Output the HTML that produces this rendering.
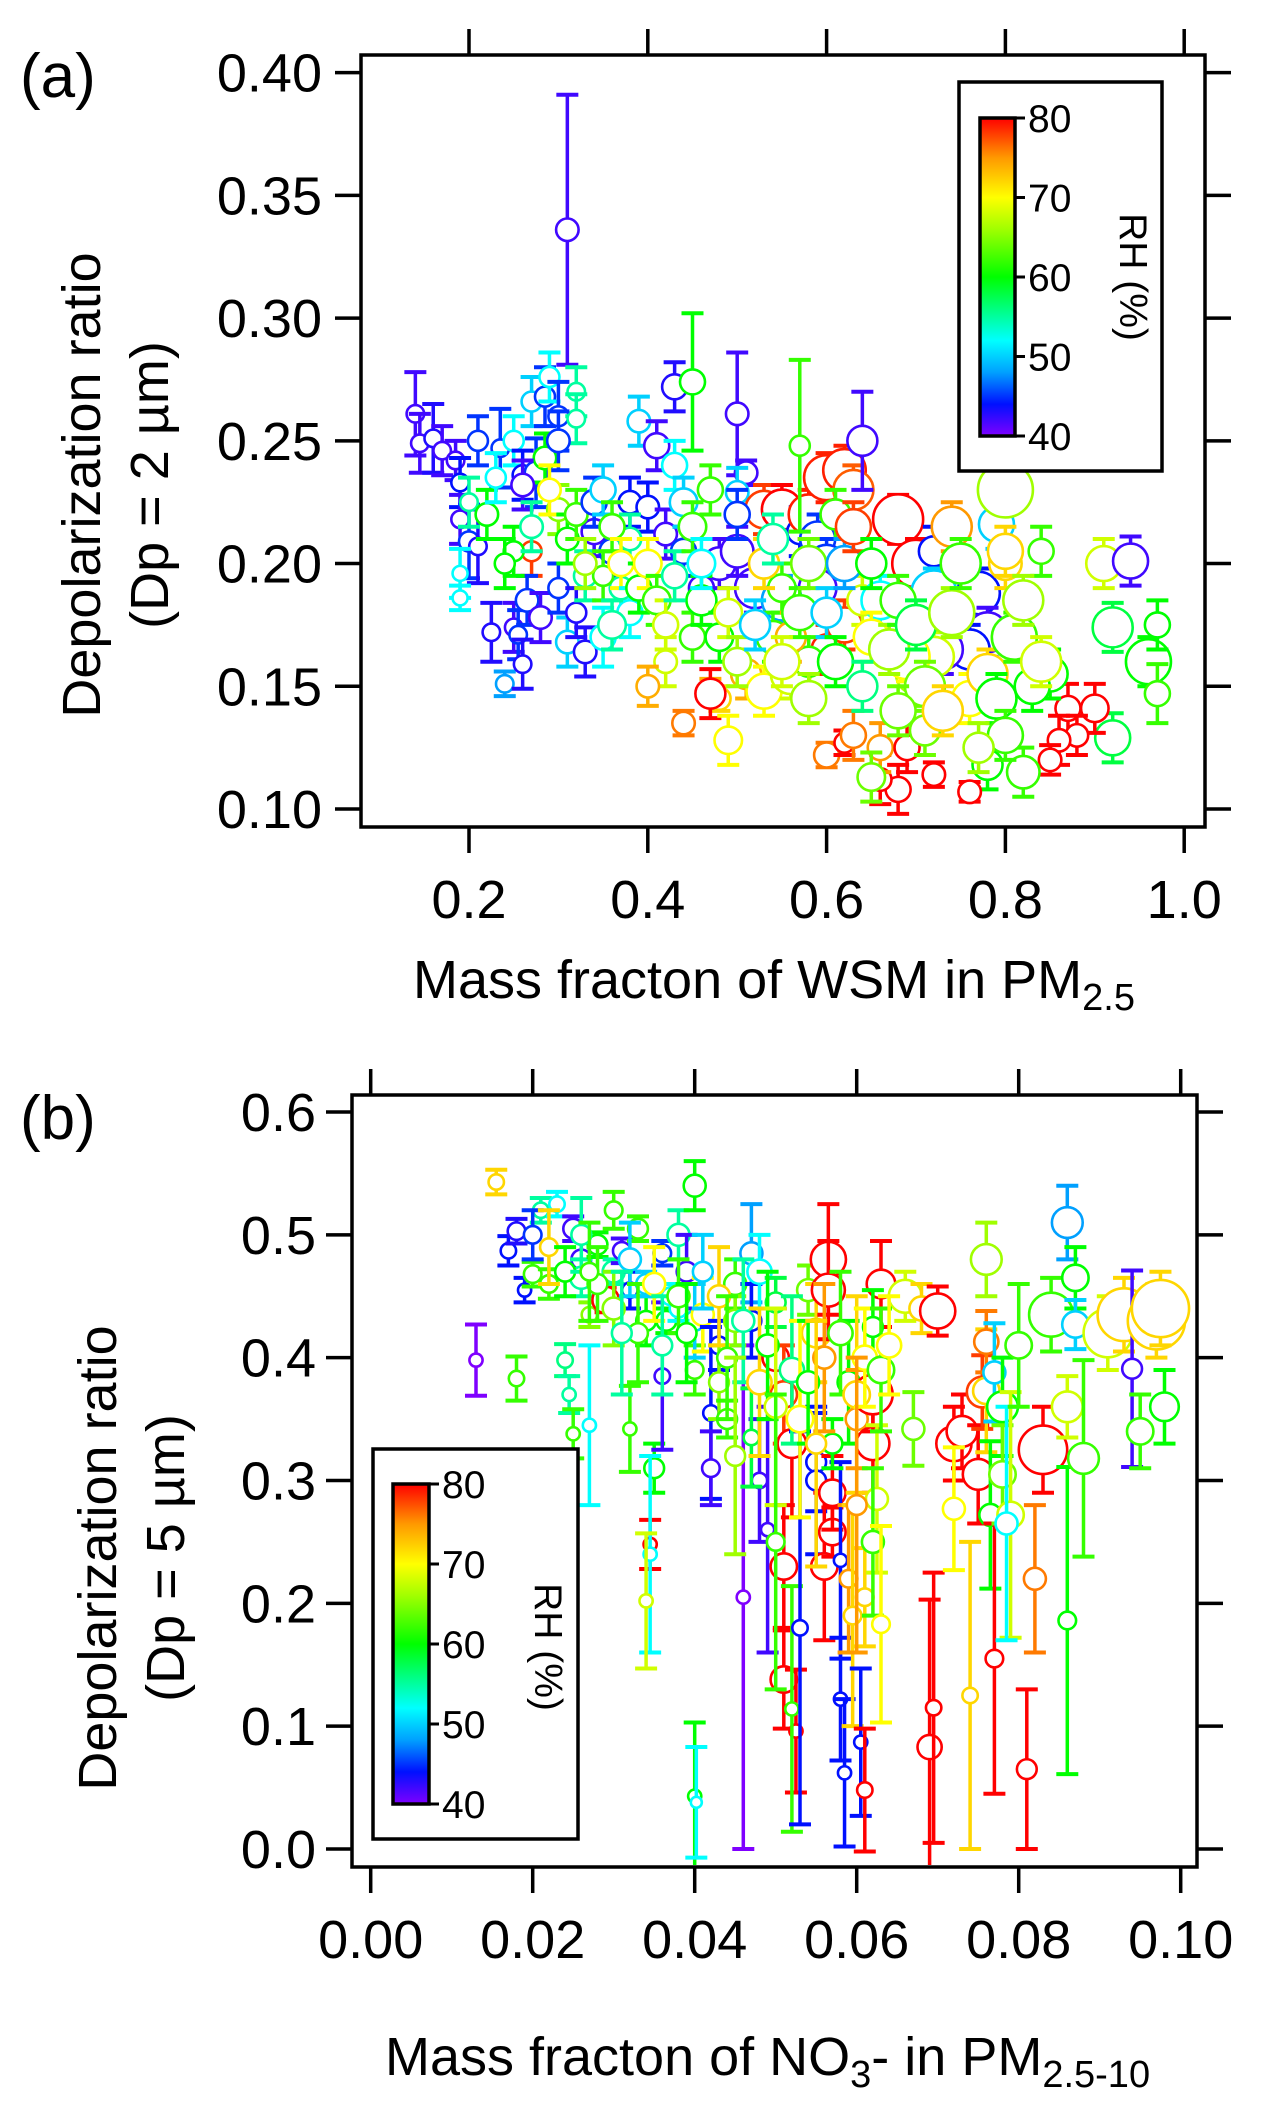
<!DOCTYPE html>
<html><head><meta charset="utf-8"><style>
html,body{margin:0;padding:0;background:#fff;}
svg{display:block;font-family:"Liberation Sans",Arial,sans-serif;}
</style></head><body>
<svg id="fig" width="1263" height="2119" viewBox="0 0 1263 2119" xmlns="http://www.w3.org/2000/svg">
<defs>
<linearGradient id="cbar" x1="0" y1="1" x2="0" y2="0">
<stop offset="0" stop-color="#7f00ff"/><stop offset="0.1" stop-color="#0010ff"/><stop offset="0.2" stop-color="#00a0ff"/><stop offset="0.3" stop-color="#00ffff"/><stop offset="0.5" stop-color="#00ff00"/><stop offset="0.65" stop-color="#a0ff00"/><stop offset="0.75" stop-color="#ffff00"/><stop offset="0.875" stop-color="#ff9900"/><stop offset="1" stop-color="#ff0000"/>
</linearGradient>
<clipPath id="clipA"><rect x="362" y="57" width="841" height="768"/></clipPath>
<clipPath id="clipB"><rect x="354" y="1097" width="841" height="768"/></clipPath>
</defs>
<g id="panelA"></g>
<g id="panelB"></g>
</svg>
<script>
// ---------- Panel (a) data ----------
const aX = [.14,.145,.16,.17,.185,.19,.19,.2,.21,.19,.19,.2,.225,.24,.25,.255,.26,.235,.25,.26,.27,.285,.29,.3,.31,.32,.32,.275,.285,.3,.27,.265,.28,.3,.31,.32,.33,.25,.26,.33,.34,.35,.36,.37,.38,.39,.4,.41,.42,.43,.45,.43,.44,.46,.45,.47,.44,.48,.5,.51,.5,.53,.55,.57,.58,.59,.6,.62,.63,.64,.57,.61,.6,.59,.52,.55,.48,.5,.46,.54,.51,.53,.47,.49,.56,.6,.62,.64,.66,.68,.7,.72,.74,.75,.72,.77,.78,.76,.73,.79,.8,.8,.84,.91,.94,.92,.96,.97,.97,.92,.87,.9,.88,.86,.85,.85,.82,.78,.72,.76,.68,.66,.66,.69,.71,.65,.6,.62,.7,.72,.76,.63,.69,.55,.58,.42,.4,.35,.38,.8,
 .3,.29,.31,.32,.34,.35,.36,.37,.38,.39,.4,.41,.42,.43,.44,.45,.46,.47,.48,.49,.5,.52,.53,.54,.56,.57,.58,.6,.61,.62,.63,.65,.65,.67,.68,.7,.71,.73,.74,.75,.78,.79,.81,.82,.83,.84,.8,.77,.68,.64,.58,.55,.5,.27,.22,.23,.21,.24,.36,.33];
const aY = [.261,.249,.251,.246,.242,.233,.218,.209,.207,.196,.186,.225,.172,.151,.174,.171,.159,.247,.25,.236,.266,.268,.276,.26,.336,.27,.259,.237,.243,.222,.205,.185,.178,.19,.168,.18,.195,.205,.232,.164,.213,.17,.205,.19,.225,.258,.223,.248,.212,.272,.274,.24,.205,.19,.17,.148,.135,.145,.261,.237,.229,.222,.222,.213,.22,.21,.235,.238,.23,.25,.248,.22,.2,.19,.19,.185,.2,.205,.185,.17,.155,.148,.147,.128,.155,.165,.175,.185,.185,.218,.2,.205,.215,.185,.188,.188,.172,.165,.165,.216,.23,.2,.205,.2,.201,.174,.16,.147,.175,.129,.141,.141,.13,.128,.12,.155,.115,.118,.114,.107,.108,.112,.125,.125,.132,.113,.122,.127,.155,.162,.145,.13,.162,.19,.16,.16,.15,.195,.21,.205,
 .25,.23,.21,.22,.225,.23,.215,.2,.18,.19,.2,.185,.175,.195,.225,.215,.2,.23,.17,.18,.16,.175,.2,.21,.17,.18,.2,.18,.16,.2,.215,.2,.17,.165,.185,.175,.15,.14,.18,.2,.155,.145,.17,.185,.15,.16,.13,.125,.14,.15,.145,.16,.22,.215,.22,.235,.25,.2,.175,.2];
const aErr = [.017,.012,.014,.01,.008,.01,.01,.015,.015,.01,.005,.01,.012,.005,.01,.01,.01,.016,.01,.01,.01,.012,.01,.014,.055,.01,.01,.014,.01,.01,.01,.01,.01,.01,.01,.01,.01,.01,.01,.01,.01,.012,.01,.01,.01,.01,.01,.01,.01,.01,.028,.01,.01,.01,.01,.005,.005,.005,.025,.005,.01,.01,.01,.01,.01,.01,.01,.01,.01,.02,.035,.01,.01,.01,.01,.01,.01,.01,.01,.01,.01,.01,.01,.01,.01,.01,.01,.01,.01,.01,.01,.01,.01,.01,.01,.01,.01,.01,.01,.01,.01,.01,.01,.01,.01,.01,.01,.012,.01,.01,.01,.01,.008,.01,.006,.01,.01,.01,.005,.004,.01,.01,.01,.01,.01,.01,.005,.005,.01,.01,.01,.01,.01,.01,.01,.01,.008,.01,.01,.01,
 .012,.01,.01,.01,.01,.01,.01,.01,.01,.01,.01,.01,.01,.01,.01,.01,.01,.01,.01,.01,.01,.01,.01,.01,.01,.01,.01,.01,.01,.01,.01,.01,.01,.01,.01,.01,.01,.01,.01,.01,.01,.01,.01,.01,.01,.01,.01,.01,.01,.01,.01,.01,.01,.01,.01,.01,.01,.01,.01,.01];
const aRH = [42,42,43,42,42,44,42,45,43,52,52,55,43,48,42,45,43,45,52,44,50,45,52,45,42,55,55,45,60,65,78,45,42,45,50,43,55,60,42,43,42,52,45,55,44,50,44,42,42,43,60,52,45,42,62,74,76,72,42,42,50,78,80,44,79,45,79,79,77,42,62,62,45,42,42,48,42,42,60,62,74,70,80,70,68,79,78,68,52,80,80,44,75,48,50,44,42,44,42,50,66,72,62,68,42,58,60,62,60,58,80,80,80,80,80,60,62,60,80,80,80,80,75,80,64,64,76,80,66,68,70,76,70,62,62,68,74,62,55,72,
 45,70,60,62,45,50,62,70,52,60,70,62,68,55,50,62,52,62,60,68,66,50,72,55,74,62,64,50,60,48,78,60,70,66,62,58,64,72,66,62,72,60,62,66,60,68,62,66,64,56,66,68,45,55,60,52,45,60,55,66];
const aSize = [7,7,7,7,7,7,7,8,7,6,6,7,7,7,7,7,7,7,8,8,8,8,8,8,9,7,7,9,9,9,8,9,9,8,9,8,9,8,9,9,10,10,10,9,9,9,9,10,9,10,10,10,10,10,10,9,9,9,9,9,9,15,16,10,16,14,18,17,16,12,8,12,15,15,16,16,13,13,12,13,12,14,12,11,16,12,14,12,15,20,19,12,16,18,18,17,16,16,16,14,22,13,10,14,14,16,18,10,10,14,10,11,9,9,9,14,13,12,9,9,10,9,10,10,12,11,10,8,16,16,14,10,18,11,12,9,9,8,9,14,
 9,9,9,9,10,10,10,10,10,10,11,11,10,10,11,11,11,10,11,11,11,12,12,12,12,14,14,12,14,14,14,12,14,16,14,16,16,16,18,16,16,16,18,16,14,16,14,12,14,12,14,14,10,9,9,8,8,8,11,9];
const aXTicks = [0.2,0.4,0.6,0.8,1.0];
const aXTickLabels = ["0.2","0.4","0.6","0.8","1.0"];
const aYTicks = [0.10,0.15,0.20,0.25,0.30,0.35,0.40];
const aYTickLabels = ["0.10","0.15","0.20","0.25","0.30","0.35","0.40"];

// ---------- Panel (b) data ----------
const bX = [.013,.0155,.017,.018,.019,.018,.02,.021,.022,.023,.024,.0245,.025,.026,.026,.027,.027,.025,.028,.029,.03,.03,.031,.032,.032,.033,.034,.034,.035,.0345,.0345,.034,.036,.036,.037,.038,.039,.04,.04,.04,.04,.0402,.041,.042,.042,.043,.043,.044,.045,.046,.047,.047,.048,.048,.047,.049,.05,.05,.051,.052,.051,.051,.0525,.052,.053,.054,.055,.055,.055,.056,.057,.057,.058,.058,.0585,.0565,.0565,.059,.06,.059,.0595,.0605,.061,.061,.062,.062,.0625,.062,.063,.063,.062,.066,.067,.068,.070,.069,.0695,.072,.073,.072,.074,.075,.0755,.076,.076,.076,.0765,.077,.077,.078,.078,.079,.0785,.08,.081,.082,.083,.084,.086,.086,.086,.087,.087,.088,.091,.093,.094,.095,.097,.0975,.098,.0365,.038,.045,.057,
 .02,.022,.024,.026,.028,.03,.032,.033,.035,.036,.038,.039,.041,.043,.044,.046,.048,.049,.05,.052,.053,.054,.056,.058,.06,.061,.063,.064,.045,.05,.055,.06,.031,.027];
const bY = [.398,.543,.487,.503,.455,.383,.468,.52,.46,.525,.398,.37,.505,.48,.465,.435,.345,.338,.492,.447,.47,.52,.487,.455,.342,.505,.43,.46,.31,.248,.24,.202,.385,.485,.45,.5,.47,.54,.39,.43,.043,.038,.435,.355,.31,.41,.38,.35,.46,.205,.485,.43,.47,.3,.335,.26,.445,.4,.37,.33,.23,.138,.096,.114,.18,.455,.42,.315,.3,.23,.258,.29,.235,.122,.062,.48,.455,.38,.35,.22,.19,.087,.205,.048,.33,.37,.285,.25,.46,.183,.425,.45,.342,.44,.438,.083,.115,.33,.34,.277,.125,.305,.372,.373,.413,.48,.272,.155,.388,.36,.305,.272,.265,.41,.065,.22,.325,.435,.36,.186,.51,.465,.427,.318,.42,.435,.391,.34,.43,.44,.36,.43,.44,.43,.33,
 .5,.49,.47,.5,.46,.44,.48,.42,.46,.41,.45,.42,.47,.45,.4,.43,.38,.41,.36,.39,.35,.38,.4,.42,.37,.4,.39,.41,.32,.25,.33,.28,.42,.47];
const bErr = [.029,.01,.012,.01,.01,.018,.01,.01,.012,.01,.013,.015,.01,.015,.015,.01,.065,.02,.01,.01,.01,.015,.01,.015,.035,.01,.02,.01,.02,.02,.08,.055,.06,.01,.01,.02,.03,.02,.02,.03,.06,.045,.03,.07,.03,.02,.03,.015,.02,.205,.04,.03,.03,.05,.04,.1,.02,.04,.04,.06,.05,.04,.05,.1,.16,.02,.04,.04,.06,.06,.02,.03,.08,.05,.06,.045,.04,.05,.04,.06,.09,.06,.04,.05,.04,.03,.06,.06,.035,.08,.03,.02,.03,.02,.02,.12,.11,.03,.03,.05,.125,.04,.03,.05,.025,.03,.06,.11,.04,.04,.04,.1,.095,.05,.065,.06,.035,.03,.025,.125,.03,.025,.02,.08,.03,.03,.08,.03,.03,.03,.03,.01,.01,.02,.02,
 .02,.03,.02,.03,.03,.03,.03,.04,.03,.04,.03,.04,.03,.04,.05,.05,.06,.06,.08,.06,.08,.05,.06,.05,.08,.04,.05,.04,.08,.12,.1,.12,.05,.04];
const bRH = [40,72,44,43,44,62,62,55,62,52,56,55,42,42,55,65,52,62,60,80,55,62,42,44,62,62,60,50,60,80,52,68,42,45,52,55,42,60,62,50,60,52,70,44,42,44,65,62,62,40,48,44,52,42,58,42,58,80,78,80,80,80,80,62,44,64,72,44,44,80,80,80,44,44,44,80,80,60,75,75,72,44,72,80,80,80,68,62,80,70,60,68,64,72,80,80,80,80,80,70,72,80,78,72,76,66,60,80,50,60,64,68,52,62,80,76,80,62,68,60,48,60,50,62,68,72,42,62,72,72,60,60,52,65,60,
 45,72,60,55,62,65,50,62,70,55,62,60,50,72,62,55,72,60,68,56,70,60,75,62,72,70,62,70,66,62,72,75,55,62];
const bSize = [6,7,7,8,6,7,8,7,8,7,7,6,9,9,10,7,6,6,9,12,10,8,8,7,6,9,9,9,9,6,6,6,7,8,8,10,9,10,8,9,6,5,10,7,8,8,9,9,10,6,10,9,11,7,7,6,9,12,12,13,12,12,6,6,7,10,13,9,9,12,12,12,6,6,6,16,15,10,10,8,8,6,8,7,15,18,10,10,13,8,9,15,10,11,16,11,7,16,14,10,7,14,14,12,11,14,10,8,10,14,12,12,10,12,9,10,22,20,14,8,14,12,12,14,22,24,9,12,26,26,13,9,8,10,9,
 8,8,9,9,9,10,10,9,10,9,10,9,9,10,9,10,11,10,10,11,12,10,10,11,12,11,12,11,9,8,9,9,9,8];
const bXTicks = [0.00,0.02,0.04,0.06,0.08,0.10];
const bXTickLabels = ["0.00","0.02","0.04","0.06","0.08","0.10"];
const bYTicks = [0.0,0.1,0.2,0.3,0.4,0.5,0.6];
const bYTickLabels = ["0.0","0.1","0.2","0.3","0.4","0.5","0.6"];

const NS = "http://www.w3.org/2000/svg";
function mk(tag, attrs, parent){
  const e = document.createElementNS(NS, tag);
  for (const k in attrs) e.setAttribute(k, attrs[k]);
  parent.appendChild(e);
  return e;
}
const cmStops = [[40,[127,0,255]],[44,[0,16,255]],[48,[0,160,255]],[52,[0,255,255]],[60,[0,255,0]],[66,[160,255,0]],[70,[255,255,0]],[75,[255,153,0]],[80,[255,0,0]]];
function rhColor(v){
  if (v<=40) return "rgb(127,0,255)";
  if (v>=80) return "rgb(255,0,0)";
  for (let i=0;i<cmStops.length-1;i++){
    const a=cmStops[i], b=cmStops[i+1];
    if (v>=a[0] && v<=b[0]){
      const t=(v-a[0])/(b[0]-a[0]);
      const c=a[1].map((q,j)=>Math.round(q+(b[1][j]-q)*t));
      return "rgb("+c.join(",")+")";
    }
  }
  return "#000";
}

function drawPanel(cfg){
  const g = document.getElementById(cfg.gid);
  const {L,R,T,B} = cfg.box;
  const xs = v => cfg.x0px + (v - cfg.x0) * cfg.xScale;
  const ys = v => cfg.y0px - (v - cfg.y0) * cfg.yScale;

  const marks = mk("g", {"clip-path":"url(#"+cfg.clip+")"}, g);
  
  
  const n = cfg.xv.length;
  for (let i=0;i<n;i++){
    const col = rhColor(cfg.rh[i]);
    const cx = xs(cfg.xv[i]), cy = ys(cfg.yv[i]);
    const y1 = ys(cfg.yv[i]+cfg.err[i]), y2 = ys(cfg.yv[i]-cfg.err[i]);
    const pg = mk("g", {}, marks);
    
    
    mk("line", {x1:cx,y1:y1,x2:cx,y2:y2,stroke:col,"stroke-width":3.5}, pg);
    mk("line", {x1:cx-11,y1:y1,x2:cx+11,y2:y1,stroke:col,"stroke-width":4}, pg);
    mk("line", {x1:cx-11,y1:y2,x2:cx+11,y2:y2,stroke:col,"stroke-width":4}, pg);
    mk("circle", {cx:cx,cy:cy,r:cfg.size[i]*cfg.rScale,fill:"#fff",stroke:col,"stroke-width":2.6}, pg);
  }

  const frame = mk("rect", {x:L,y:T,width:R-L,height:B-T,fill:"none",stroke:"#000","stroke-width":3.5}, g);
  
  

  const xax = mk("g", {}, g);
  
  
  cfg.xt.forEach((v,i)=>{
    const px = xs(v);
    mk("line", {x1:px,y1:B,x2:px,y2:B+26,stroke:"#000","stroke-width":3.5}, xax);
    mk("line", {x1:px,y1:T,x2:px,y2:T-26,stroke:"#000","stroke-width":3.5}, xax);
    const t = mk("text", {x:px,y:cfg.xLabelY,"font-size":54,"text-anchor":"middle"}, xax);
    
    
    t.textContent = cfg.xtl[i];
  });
  const yax = mk("g", {}, g);
  
  
  cfg.yt.forEach((v,i)=>{
    const py = ys(v);
    mk("line", {x1:L,y1:py,x2:L-26,y2:py,stroke:"#000","stroke-width":3.5}, yax);
    mk("line", {x1:R,y1:py,x2:R+26,y2:py,stroke:"#000","stroke-width":3.5}, yax);
    const t = mk("text", {x:cfg.yLabelX,y:py+19,"font-size":54,"text-anchor":"end"}, yax);
    
    
    t.textContent = cfg.ytl[i];
  });

  const lg = mk("g", {}, g);
  
  
  const lb = cfg.leg;
  mk("rect", {x:lb.x,y:lb.y,width:lb.w,height:lb.h,fill:"#fff",stroke:"#000","stroke-width":3.5}, lg);
  const cb = mk("rect", {x:lb.cx,y:lb.cy,width:lb.cw,height:lb.ch,fill:"url(#cbar)",stroke:"#000","stroke-width":3.5}, lg);
  
  
  [40,50,60,70,80].forEach(v=>{
    const py = lb.cy + lb.ch - (v-40)/40*lb.ch;
    mk("line", {x1:lb.cx+lb.cw,y1:py,x2:lb.cx+lb.cw+10,y2:py,stroke:"#000","stroke-width":3}, lg);
    const t = mk("text", {x:lb.cx+lb.cw+13,y:py+14,"font-size":39}, lg);
    
    
    t.textContent = String(v);
  });
  const rt = mk("text", {x:lb.rhx,y:lb.rhy,"font-size":39,"text-anchor":"middle",transform:"rotate(90 "+lb.rhx+" "+lb.rhy+")"}, lg);
  
  
  rt.textContent = "RH (%)";
}

drawPanel({gid:"panelA", clip:"clipA", box:{L:361,R:1205,T:55,B:827},
  x0:0.2, x0px:469, xScale:894, y0:0.10, y0px:809, yScale:2454.5,
  xv:aX, yv:aY, err:aErr, rh:aRH, size:aSize, rScale:1.25,
  xt:aXTicks, xtl:aXTickLabels, yt:aYTicks, ytl:aYTickLabels,
  xLabelY:918, yLabelX:322,
  leg:{x:959,y:82,w:203,h:389,cx:980,cy:118,cw:35,ch:318,rhx:1120,rhy:277}});

drawPanel({gid:"panelB", clip:"clipB", box:{L:352,R:1197,T:1095,B:1867},
  x0:0.0, x0px:370.7, xScale:8100, y0:0.0, y0px:1849, yScale:1228.3,
  xv:bX, yv:bY, err:bErr, rh:bRH, size:bSize, rScale:1.1,
  xt:bXTicks, xtl:bXTickLabels, yt:bYTicks, ytl:bYTickLabels,
  xLabelY:1958, yLabelX:316,
  leg:{x:373,y:1449,w:205,h:390,cx:393,cy:1484,cw:36,ch:320,rhx:535,rhy:1647}});

const svg = document.getElementById("fig");
function txt(attrs, s, name){
  const t = mk("text", attrs, svg);
  
  
  t.innerHTML = s;
  return t;
}
txt({x:20,y:97,"font-size":62}, "(a)", "panel-a-label");
txt({x:20,y:1139,"font-size":62}, "(b)", "panel-b-label");
txt({x:413,y:998,"font-size":54}, 'Mass fracton of WSM in PM<tspan font-size="38" dy="12">2.5</tspan>', "x-axis-title-a");
txt({x:385,y:2075,"font-size":54}, 'Mass fracton of NO<tspan font-size="38" dy="12">3</tspan><tspan dy="-12">- in PM</tspan><tspan font-size="38" dy="12">2.5-10</tspan>', "x-axis-title-b");
txt({x:100,y:485,"font-size":54,"text-anchor":"middle",transform:"rotate(-90 100 485)"}, "Depolarization ratio", "y-axis-title-a");
txt({x:168,y:485,"font-size":54,"text-anchor":"middle",transform:"rotate(-90 168 485)"}, "(Dp = 2 µm)", "y-axis-title-a-sub");
txt({x:116,y:1558,"font-size":54,"text-anchor":"middle",transform:"rotate(-90 116 1558)"}, "Depolarization ratio", "y-axis-title-b");
txt({x:184,y:1558,"font-size":54,"text-anchor":"middle",transform:"rotate(-90 184 1558)"}, "(Dp = 5 µm)", "y-axis-title-b-sub");
</script>
</body></html>
